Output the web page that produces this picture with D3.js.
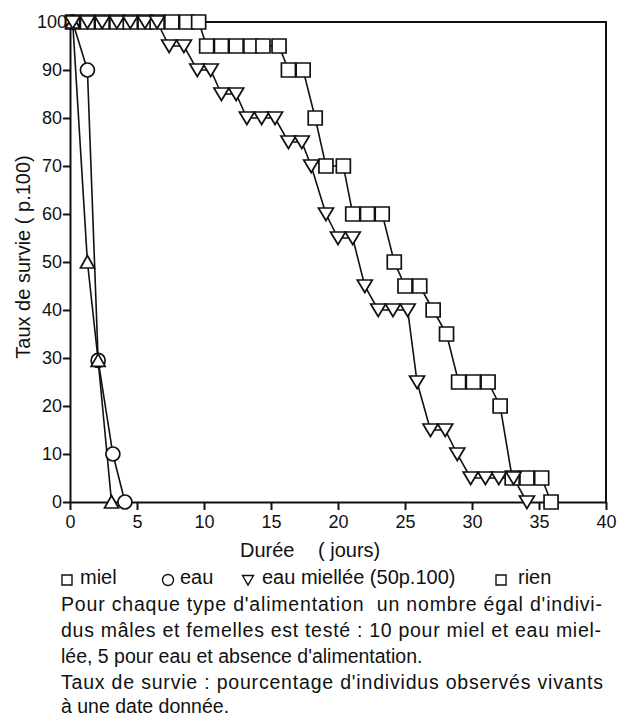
<!DOCTYPE html>
<html>
<head>
<meta charset="utf-8">
<script src="https://cdn.jsdelivr.net/npm/d3@7"></script>
<style>
  html, body { margin: 0; padding: 0; background: #fff; }
  svg { display: block; }
  text { font-family: "Liberation Sans", Arial, sans-serif; fill: #111; }
</style>
</head>
<body>
<svg id="chart" width="619" height="717"></svg>
<script>
// ---------- DATA ----------
const xTicks = [0, 5, 10, 15, 20, 25, 30, 35, 40];
const yTicks = [0, 10, 20, 30, 40, 50, 60, 70, 80, 90, 100];

// miel (squares)
const mielDays = [0.2, 1.3, 2.4, 3.5, 4.5, 5.6, 6.5, 7.6, 8.7, 9.6,
  10.2, 11.3, 12.4, 13.5, 14.4, 15.6, 16.3, 17.4, 18.3, 19.1, 20.4,
  21.1, 22.2, 23.3, 24.2, 25.0, 26.1, 27.1, 28.1, 29.0, 30.1, 31.2,
  32.1, 33.0, 34.1, 35.2, 35.9];
const mielSurv = [100, 100, 100, 100, 100, 100, 100, 100, 100, 100,
  95, 95, 95, 95, 95, 95, 90, 90, 80, 70, 70,
  60, 60, 60, 50, 45, 45, 40, 35, 25, 25, 25,
  20, 5, 5, 5, 0];

// eau miellée (triangles down)
const eauMielDays = [0.2, 1.3, 2.4, 3.5, 4.5, 5.6, 6.5, 7.4, 8.5,
  9.5, 10.5, 11.3, 12.4, 13.2, 14.3, 15.3, 16.3, 17.3, 18.0, 19.1,
  20.0, 21.1, 22.0, 23.0, 24.1, 25.2, 25.9, 26.9, 28.0, 28.9,
  29.9, 31.0, 32.0, 33.1, 34.1];
const eauMielSurv = [100, 100, 100, 100, 100, 100, 100, 95, 95,
  90, 90, 85, 85, 80, 80, 80, 75, 75, 70, 60,
  55, 55, 45, 40, 40, 40, 25, 15, 15, 10,
  5, 5, 5, 5, 0];

// eau (circles)
const eauDays = [0.2, 1.3, 2.1, 3.2, 4.1];
const eauSurv = [100, 90, 29.5, 10, 0];

// rien (triangles up)
const rienDays = [0.2, 1.3, 2.1, 3.1];
const rienSurv = [100, 50, 29.5, 0];

const yLabel = "Taux de survie ( p.100)";
const xLabelMain = "Durée";
const xLabelUnit = "( jours)";
const legendNames = ["miel", "eau", "eau miellée (50p.100)", "rien"];
const noteLines = [
  "Pour chaque type d'alimentation  un nombre égal d'indivi-",
  "dus mâles et femelles est testé : 10 pour miel et eau miel-",
  "lée, 5 pour eau et absence d'alimentation.",
  "Taux de survie : pourcentage d'individus observés vivants",
  "à une date donnée."
];

// ---------- LAYOUT ----------
const svg = d3.select("#chart");
const x = d3.scaleLinear().domain([0, 40]).range([70, 606]);
const y = d3.scaleLinear().domain([0, 100]).range([502, 22]);

const shapes = {
  square: "M-7,-7H7V7H-7Z",
  circle: d3.symbol().type(d3.symbolCircle).size(Math.PI * 7 * 7)(),
  triDown: "M-7.5,-6L7.5,-6L0,6.5Z",
  triUp: "M-7,6L7,6L0,-6.5Z"
};
const smallShapes = {
  square: "M-5,-5H5V5H-5Z",
  circle: d3.symbol().type(d3.symbolCircle).size(Math.PI * 5.5 * 5.5)(),
  triDown: "M-5.5,-4.5L5.5,-4.5L0,5Z"
};

// axes
const yAxis = d3.axisLeft(y).tickValues(yTicks).tickSize(7).tickSizeOuter(0).tickPadding(1);
const xAxis = d3.axisBottom(x).tickValues(xTicks).tickSize(8).tickSizeOuter(0).tickPadding(5);

const gy = svg.append("g").attr("transform", `translate(${x(0)},0)`).call(yAxis);
const gx = svg.append("g").attr("transform", `translate(0,${y(0)})`).call(xAxis);
[gx, gy].forEach(g => {
  g.selectAll("path.domain").attr("stroke", "#111").attr("stroke-width", 2);
  g.selectAll(".tick line").attr("stroke", "#111").attr("stroke-width", 2);
  g.selectAll(".tick text").style("font-size", "18px").attr("fill", "#111")
    .style("font-family", "'Liberation Sans', Arial, sans-serif");
});
gy.selectAll(".tick").filter(d => d === 100).select("line").remove();
gy.selectAll(".tick").filter(d => d === 100).select("text").attr("x", -3);

// frame top & right
svg.append("line").attr("x1", x(0)).attr("x2", x(40) + 1).attr("y1", y(100)).attr("y2", y(100))
  .attr("stroke", "#111").attr("stroke-width", 2);
svg.append("line").attr("x1", x(40)).attr("x2", x(40)).attr("y1", y(100)).attr("y2", y(0))
  .attr("stroke", "#111").attr("stroke-width", 2);

// series
const series = [
  { days: mielDays, vals: mielSurv, shape: "square" },
  { days: eauDays, vals: eauSurv, shape: "circle" },
  { days: rienDays, vals: rienSurv, shape: "triUp" },
  { days: eauMielDays, vals: eauMielSurv, shape: "triDown" }
];
const line = d3.line().x(d => x(d[0])).y(d => y(d[1]));
series.forEach(s => {
  const pts = s.days.map((d, i) => [d, s.vals[i]]);
  svg.append("path").datum(pts).attr("d", line)
    .attr("fill", "none").attr("stroke", "#111").attr("stroke-width", 1.6);
});
series.forEach(s => {
  const pts = s.days.map((d, i) => [d, s.vals[i]]);
  svg.append("g").selectAll("path").data(pts).join("path")
    .attr("d", shapes[s.shape])
    .attr("transform", d => `translate(${x(d[0])},${y(d[1])})`)
    .attr("fill", "#fff").attr("stroke", "#111").attr("stroke-width", 1.7);
});

// axis titles
svg.append("text").attr("transform", "translate(30,257) rotate(-90)")
  .attr("text-anchor", "middle").style("font-size", "20px").text(yLabel);
svg.append("text").attr("x", 240).attr("y", 557).style("font-size", "20px").text(xLabelMain);
svg.append("text").attr("x", 318).attr("y", 557).style("font-size", "20px").text(xLabelUnit);

// legend
const legendItems = [
  { shape: "square", sx: 67, tx: 80 },
  { shape: "circle", sx: 168, tx: 180 },
  { shape: "triDown", sx: 248, tx: 262 },
  { shape: "square", sx: 501, tx: 518 }
];
legendItems.forEach((it, i) => {
  svg.append("path").attr("d", smallShapes[it.shape])
    .attr("transform", `translate(${it.sx},580)`)
    .attr("fill", "#fff").attr("stroke", "#111").attr("stroke-width", 1.4);
  svg.append("text").attr("x", it.tx).attr("y", 584).style("font-size", "20px").text(legendNames[i]);
});

// notes
const noteY = [611, 637, 663, 689, 713];
const noteW = [541, 540, null, 542, null];
noteLines.forEach((t, i) => {
  const tx = svg.append("text").attr("x", 61).attr("y", noteY[i])
    .style("font-size", "19.5px").style("white-space", "pre").text(t);
  if (noteW[i]) tx.attr("textLength", noteW[i]).attr("lengthAdjust", "spacing");
});
</script>
</body>
</html>
